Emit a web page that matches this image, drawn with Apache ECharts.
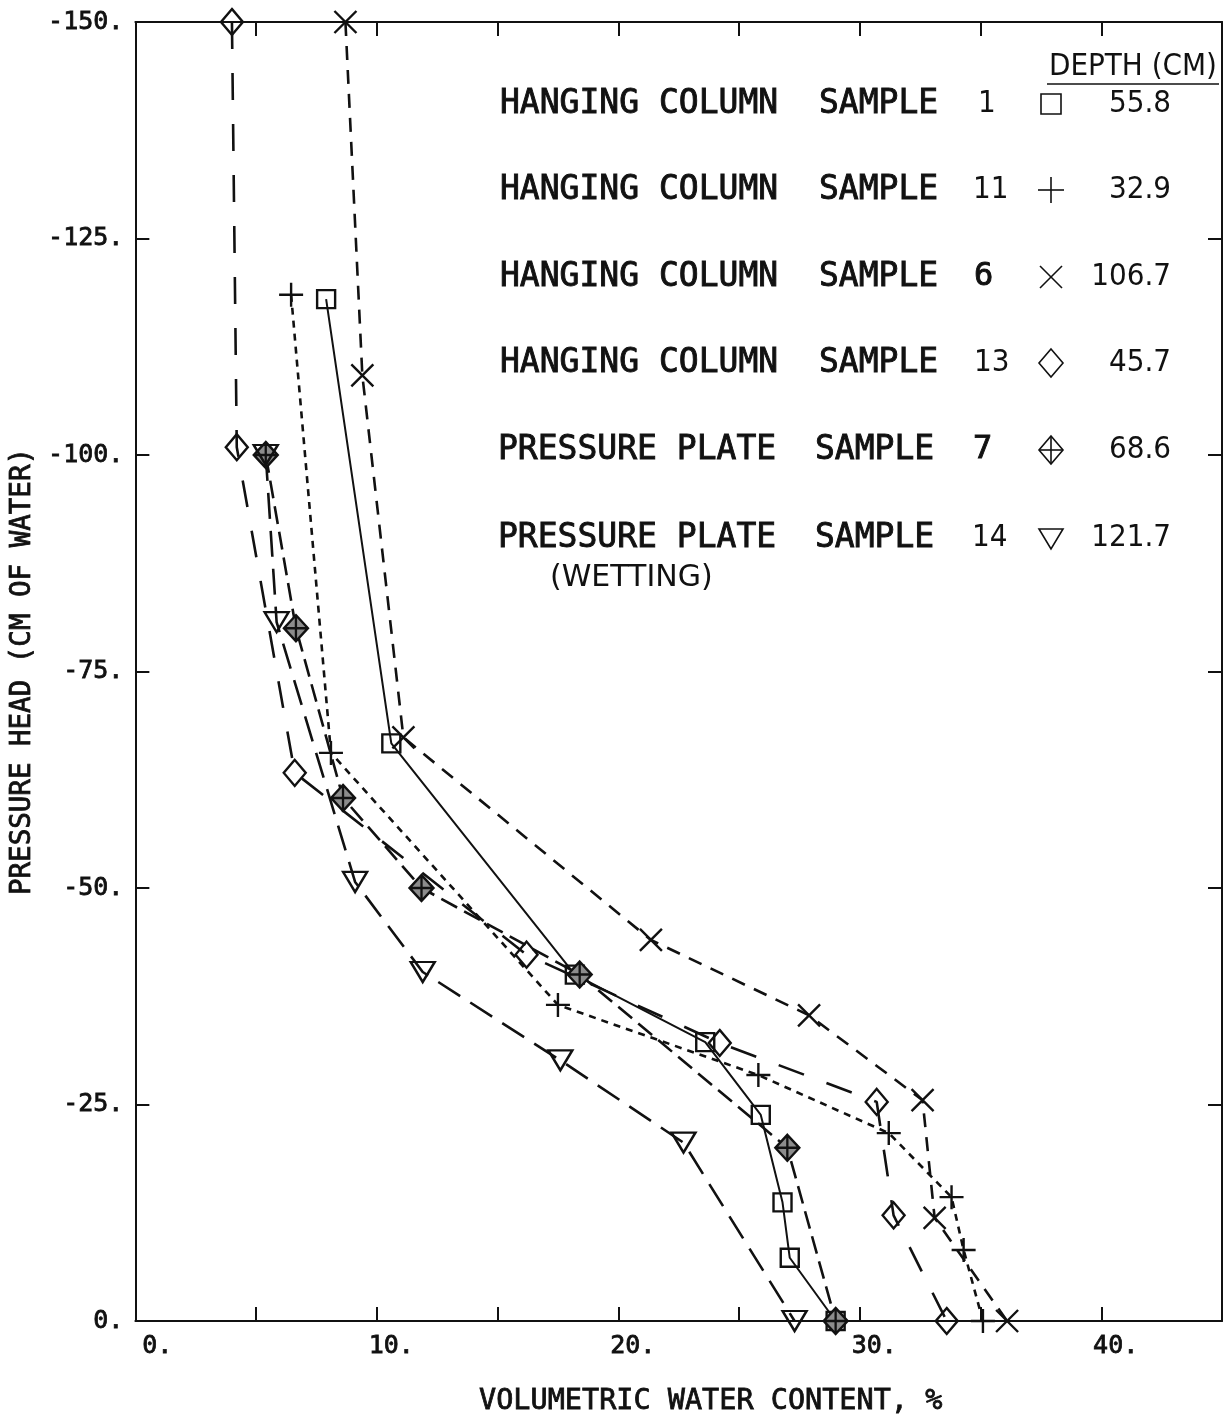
<!DOCTYPE html>
<html>
<head>
<meta charset="utf-8">
<script src="https://cdn.jsdelivr.net/npm/echarts@6/dist/echarts.min.js"></script>
<style>
  html, body { margin: 0; padding: 0; background: #fff; }
  #chart { width: 1229px; height: 1422px; }
</style>
</head>
<body>
<div id="chart"></div>
<script>
// Moisture retention curves: volumetric water content (%) vs pressure head (cm of water)

// Sample 1, depth 55.8 cm (hanging column)
const s1Water = [7.9, 10.6, 18.2, 23.6, 25.9, 26.8, 27.1, 29.0];
const s1Head  = [-118, -66.7, -40, -32.2, -23.8, -13.7, -7.3, 0];

// Sample 11, depth 32.9 cm (hanging column)
const s11Water = [6.45, 8.1, 17.5, 25.8, 31.2, 33.8, 34.3, 35.1];
const s11Head  = [-118.5, -65.6, -36.5, -28.4, -21.7, -14.3, -8.2, 0];

// Sample 6, depth 106.7 cm (hanging column)
const s6Water = [8.7, 9.4, 11.1, 21.35, 27.9, 32.6, 33.1, 36.1];
const s6Head  = [-150, -109.2, -67.4, -44, -35.3, -25.5, -11.9, 0];

// Sample 13, depth 45.7 cm (hanging column)
const s13Water = [4.0, 4.2, 6.6, 16.2, 24.2, 30.7, 31.4, 33.6];
const s13Head  = [-150, -100.9, -63.3, -42.3, -32.1, -25.3, -12.2, 0];

// Sample 7, depth 68.6 cm (pressure plate)
const s7Water = [5.4, 6.65, 8.6, 11.85, 18.4, 27.0, 29.0];
const s7Head  = [-100, -80, -60.4, -50, -40, -20, 0];

// Sample 14, depth 121.7 cm (pressure plate, wetting)
const s14Water = [5.4, 5.85, 9.1, 11.9, 17.6, 22.7, 27.3];
const s14Head  = [-100, -80.7, -50.7, -40.3, -30.1, -20.6, 0];

// Legend rows
const legendMethod = ['HANGING COLUMN', 'HANGING COLUMN', 'HANGING COLUMN', 'HANGING COLUMN', 'PRESSURE PLATE', 'PRESSURE PLATE'];
const legendSample = ['1', '11', '6', '13', '7', '14'];
const legendDepth  = ['55.8', '32.9', '106.7', '45.7', '68.6', '121.7'];

// Axis ranges and tick steps
const waterRange = [0, 45];
const waterStep = 5;
const headRange = [-150, 0];
const headStep = 25;

const plotFont = '"DejaVu Sans Mono", "Liberation Mono", monospace';
const thinFont = '"Liberation Sans Narrow", "DejaVu Sans Condensed", "DejaVu Sans", sans-serif';
const wideThinFont = '"DejaVu Sans", "Liberation Sans", sans-serif';
const INK = '#111';

const pairs = (xs, ys) => xs.map((x, i) => [x, ys[i]]);

const SYM = {
  square: 'rect',
  plus: 'path://M0,12L24,12M12,0L12,24',
  cross: 'path://M0,0L22,22M22,0L0,22',
  diamond: 'path://M11,0L22,13L11,26L0,13Z',
  crossedDiamond: 'path://M12,0L24,13L12,26L0,13ZM12,0L12,26M0,13L24,13',
  downTriangle: 'path://M0,0L24,0L12,20Z'
};

function curve(name, data, symbol, size, dash, fill) {
  return {
    name: name,
    type: 'line',
    data: data,
    symbol: symbol,
    symbolSize: size,
    showAllSymbol: true,
    lineStyle: { color: INK, width: dash === 'solid' ? 2 : 2.6, type: dash },
    itemStyle: { color: fill || 'rgba(0,0,0,0)', borderColor: INK, borderWidth: 2.4 },
    z: 3
  };
}

const chart = echarts.init(document.getElementById('chart'), null, { renderer: 'canvas' });

// legend graphics
const rowY = [104, 190, 277, 363, 450, 538];
const symX = 1051;
const legendGraphics = [];
const mono = (px) => px + 'px ' + plotFont;
const thin = (px) => px + 'px ' + thinFont;

function txt(text, x, y, font, align, heavy) {
  return {
    type: 'text', x: x, y: y, silent: true,
    style: {
      text: text, font: font, fill: INK,
      align: align || 'left', textAlign: align || 'left',
      verticalAlign: 'middle', textVerticalAlign: 'middle',
      stroke: heavy ? INK : null, lineWidth: heavy ? 0.9 : 0
    }
  };
}

legendGraphics.push(txt('DEPTH (CM)', 1217, 67, thin(31), 'right'));
legendGraphics.push({ type: 'line', silent: true, shape: { x1: 1047, y1: 84, x2: 1219, y2: 84 }, style: { stroke: INK, lineWidth: 1.6 } });

const sampleFonts = [thin(31), thin(31), mono(32), thin(31), mono(32), thin(31)];
const sampleHeavy = [false, false, true, false, true, false];
const sampleX = [978, 973, 974, 974, 973, 972];
for (let i = 0; i < 6; i++) {
  const y = rowY[i];
  const isPlate = legendMethod[i].indexOf('PRESSURE') === 0;
  legendGraphics.push(txt(legendMethod[i], isPlate ? 498 : 500, y, mono(33), 'left', true));
  legendGraphics.push(txt('SAMPLE', isPlate ? 815 : 819, y, mono(33), 'left', true));
  legendGraphics.push(txt(legendSample[i], sampleX[i], y, sampleFonts[i], 'left', sampleHeavy[i]));
  legendGraphics.push(txt(legendDepth[i], 1171, y, thin(31), 'right'));
}
legendGraphics.push(txt('(WETTING)', 550, 578, '30px ' + wideThinFont));

const ls = { fill: 'none', stroke: INK, lineWidth: 1.6 };
// square
legendGraphics.push({ type: 'rect', silent: true, shape: { x: symX - 10, y: rowY[0] - 10, width: 20, height: 20 }, style: ls });
// plus
legendGraphics.push({ type: 'line', silent: true, shape: { x1: symX - 13, y1: rowY[1], x2: symX + 13, y2: rowY[1] }, style: ls });
legendGraphics.push({ type: 'line', silent: true, shape: { x1: symX, y1: rowY[1] - 13, x2: symX, y2: rowY[1] + 13 }, style: ls });
// cross
legendGraphics.push({ type: 'line', silent: true, shape: { x1: symX - 11, y1: rowY[2] - 11, x2: symX + 11, y2: rowY[2] + 11 }, style: ls });
legendGraphics.push({ type: 'line', silent: true, shape: { x1: symX + 11, y1: rowY[2] - 11, x2: symX - 11, y2: rowY[2] + 11 }, style: ls });
// diamond
legendGraphics.push({ type: 'polygon', silent: true, shape: { points: [[symX, rowY[3] - 14], [symX + 12, rowY[3]], [symX, rowY[3] + 14], [symX - 12, rowY[3]]] }, style: ls });
// crossed diamond
legendGraphics.push({ type: 'polygon', silent: true, shape: { points: [[symX, rowY[4] - 14], [symX + 12, rowY[4]], [symX, rowY[4] + 14], [symX - 12, rowY[4]]] }, style: ls });
legendGraphics.push({ type: 'line', silent: true, shape: { x1: symX - 12, y1: rowY[4], x2: symX + 12, y2: rowY[4] }, style: ls });
legendGraphics.push({ type: 'line', silent: true, shape: { x1: symX, y1: rowY[4] - 14, x2: symX, y2: rowY[4] + 14 }, style: ls });
// down triangle
legendGraphics.push({ type: 'polygon', silent: true, shape: { points: [[symX - 12, rowY[5] - 9], [symX + 12, rowY[5] - 9], [symX, rowY[5] + 11]] }, style: ls });

const lineStyle = { color: INK, width: 2 };
const tickStyle = { show: true, inside: true, length: 14, lineStyle: { color: INK, width: 2 } };
const labelInk = { color: INK, textBorderColor: INK, textBorderWidth: 0.8 };

const option = {
  animation: false,
  backgroundColor: '#fff',
  grid: { left: 135, right: 7, top: 22, bottom: 101, containLabel: false },
  xAxis: [
    {
      type: 'value', position: 'bottom',
      min: waterRange[0], max: waterRange[1], interval: waterStep,
      axisLine: { show: true, onZero: false, lineStyle: lineStyle },
      axisTick: tickStyle,
      splitLine: { show: false },
      axisLabel: {
        show: true, margin: 13,
        formatter: (v) => (v % 10 === 0 ? '{t|' + v + '.}' : ''),
        rich: { t: Object.assign({ width: 74, align: 'right', fontFamily: plotFont, fontSize: 25 }, labelInk) }
      },
      name: 'VOLUMETRIC WATER CONTENT, %',
      nameLocation: 'middle', nameGap: 66,
      nameTextStyle: Object.assign({ fontFamily: plotFont, fontSize: 28.5, padding: [0, 0, 0, 64] }, labelInk)
    },
    {
      type: 'value', position: 'top',
      min: waterRange[0], max: waterRange[1], interval: waterStep,
      axisLine: { show: true, onZero: false, lineStyle: lineStyle },
      axisTick: tickStyle,
      splitLine: { show: false },
      axisLabel: { show: false }
    }
  ],
  yAxis: [
    {
      type: 'value', position: 'left', inverse: true,
      min: headRange[0], max: headRange[1], interval: headStep,
      axisLine: { show: true, onZero: false, lineStyle: lineStyle },
      axisTick: tickStyle,
      splitLine: { show: false },
      axisLabel: Object.assign({
        show: true, margin: 12,
        formatter: (v) => v + '.',
        fontFamily: plotFont, fontSize: 25
      }, labelInk),
      name: 'PRESSURE HEAD (CM OF WATER)',
      nameLocation: 'middle', nameGap: 98,
      nameTextStyle: Object.assign({ fontFamily: plotFont, fontSize: 27.5, padding: [0, 0, 0, 0] }, labelInk)
    },
    {
      type: 'value', position: 'right', inverse: true,
      min: headRange[0], max: headRange[1], interval: headStep,
      axisLine: { show: true, onZero: false, lineStyle: lineStyle },
      axisTick: tickStyle,
      splitLine: { show: false },
      axisLabel: { show: false }
    }
  ],
  graphic: legendGraphics,
  series: [
    curve('SAMPLE 1', pairs(s1Water, s1Head), SYM.square, 18, 'solid'),
    curve('SAMPLE 11', pairs(s11Water, s11Head), SYM.plus, 24, [7, 6]),
    curve('SAMPLE 6', pairs(s6Water, s6Head), SYM.cross, 22, [14, 10]),
    curve('SAMPLE 13', pairs(s13Water, s13Head), SYM.diamond, [22, 26], [27, 24]),
    curve('SAMPLE 7', pairs(s7Water, s7Head), SYM.crossedDiamond, [24, 26], [18, 8], '#8c8c8c'),
    curve('SAMPLE 14', pairs(s14Water, s14Head), SYM.downTriangle, [24, 20], [26, 12])
  ]
};

chart.setOption(option);
</script>
</body>
</html>
